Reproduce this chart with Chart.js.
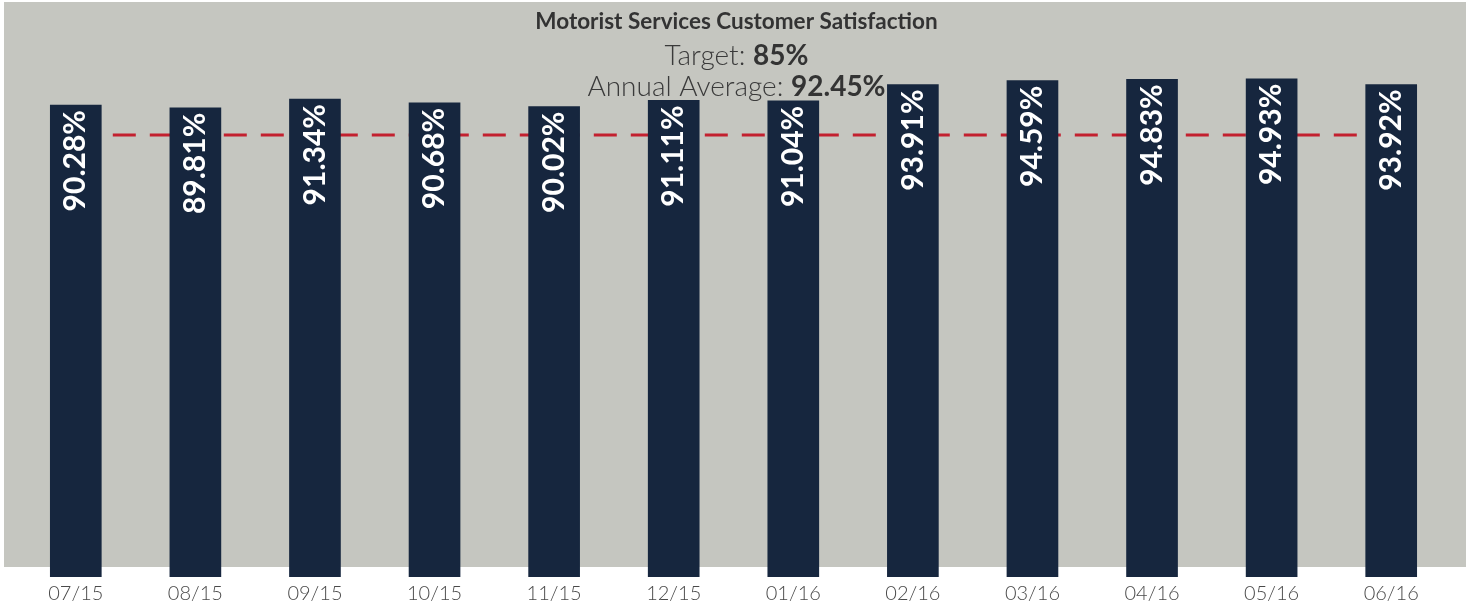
<!DOCTYPE html>
<html>
<head>
<meta charset="utf-8">
<script src="https://cdn.jsdelivr.net/npm/chart.js@4.4.1/dist/chart.umd.min.js"></script>
<style>
  html, body { margin: 0; padding: 0; background: #fff; }
  #wrap { width: 1473px; height: 611px; position: relative; }
</style>
</head>
<body>
<div id="wrap"><canvas id="chart"></canvas></div>
<script>
// ---- data ----
const months = ["07/15", "08/15", "09/15", "10/15", "11/15", "12/15",
                "01/16", "02/16", "03/16", "04/16", "05/16", "06/16"];
const satisfaction = [90.28, 89.81, 91.34, 90.68, 90.02, 91.11,
                      91.04, 93.91, 94.59, 94.83, 94.93, 93.92];
const target = 85;
const annualAverage = 92.45;
const chartTitle = "Motorist Services Customer Satisfaction";

const targetLine = months.map(() => target);

// ---- helpers ----
function drawMixed(ctx, parts, cx, y) {
  let total = 0;
  parts.forEach(p => { ctx.font = p.font; p.w = ctx.measureText(p.text).width; total += p.w; });
  let x = cx - total / 2;
  parts.forEach(p => {
    ctx.font = p.font;
    ctx.fillStyle = p.color;
    ctx.fillText(p.text, x, y);
    x += p.w;
  });
}

// gray panel behind the bars + header text on top
const panelPlugin = {
  id: "panel",
  beforeDraw(chart) {
    const ctx = chart.ctx;
    ctx.save();
    ctx.fillStyle = "#c5c6c0";
    ctx.fillRect(4, 2, 1462, chart.chartArea.bottom - 12);
    ctx.restore();
  },
  afterDraw(chart) {
    const ctx = chart.ctx;
    const cx = chart.width / 2;
    ctx.save();
    ctx.textAlign = "left";
    ctx.textBaseline = "alphabetic";
    drawMixed(ctx, [{ text: chartTitle, font: "bold 22.5px Lato", color: "#333333" }], cx, 29);
    drawMixed(ctx, [
      { text: "Target: ", font: "300 28px Lato", color: "#3a3a3a" },
      { text: target + "%", font: "bold 28px Lato", color: "#333333" }
    ], cx, 65);
    drawMixed(ctx, [
      { text: "Annual Average: ", font: "300 28px Lato", color: "#3a3a3a" },
      { text: annualAverage.toFixed(2) + "%", font: "bold 28px Lato", color: "#333333" }
    ], cx, 96);
    ctx.restore();
  }
};

// rotated value labels inside the top of each bar
const labelPlugin = {
  id: "barLabels",
  afterDatasetsDraw(chart) {
    const ctx = chart.ctx;
    const meta = chart.getDatasetMeta(0);
    ctx.save();
    ctx.fillStyle = "#ffffff";
    ctx.font = "bold 30px Lato";
    ctx.textAlign = "right";
    ctx.textBaseline = "middle";
    meta.data.forEach((bar, i) => {
      ctx.save();
      ctx.translate(bar.x, bar.y + 5);
      ctx.rotate(-Math.PI / 2);
      ctx.fillText(satisfaction[i].toFixed(2) + "%", 0, 0);
      ctx.restore();
    });
    ctx.restore();
  }
};

new Chart(document.getElementById("chart"), {
  type: "bar",
  data: {
    labels: months,
    datasets: [
      {
        label: "Satisfaction",
        data: satisfaction,
        backgroundColor: "#16263e",
        barThickness: 51,
        order: 1
      },
      {
        type: "line",
        label: "Target",
        data: targetLine,
        borderColor: "#c3202f",
        borderWidth: 3,
        borderDash: [23, 14],
        pointRadius: 0,
        fill: false,
        order: 2
      }
    ]
  },
  options: {
    responsive: true,
    maintainAspectRatio: false,
    animation: false,
    layout: { padding: { left: 16, right: 22, top: 3, bottom: 0 } },
    plugins: {
      legend: { display: false },
      tooltip: { enabled: false },
      title: { display: false }
    },
    scales: {
      x: {
        grid: { display: false, drawTicks: false },
        border: { display: false },
        ticks: { color: "#4a4a4a", font: { family: "Lato", size: 20, weight: "300" }, padding: 5 }
      },
      y: {
        display: false,
        min: 7,
        max: 108.3
      }
    }
  },
  plugins: [panelPlugin, labelPlugin]
});
</script>
</body>
</html>
